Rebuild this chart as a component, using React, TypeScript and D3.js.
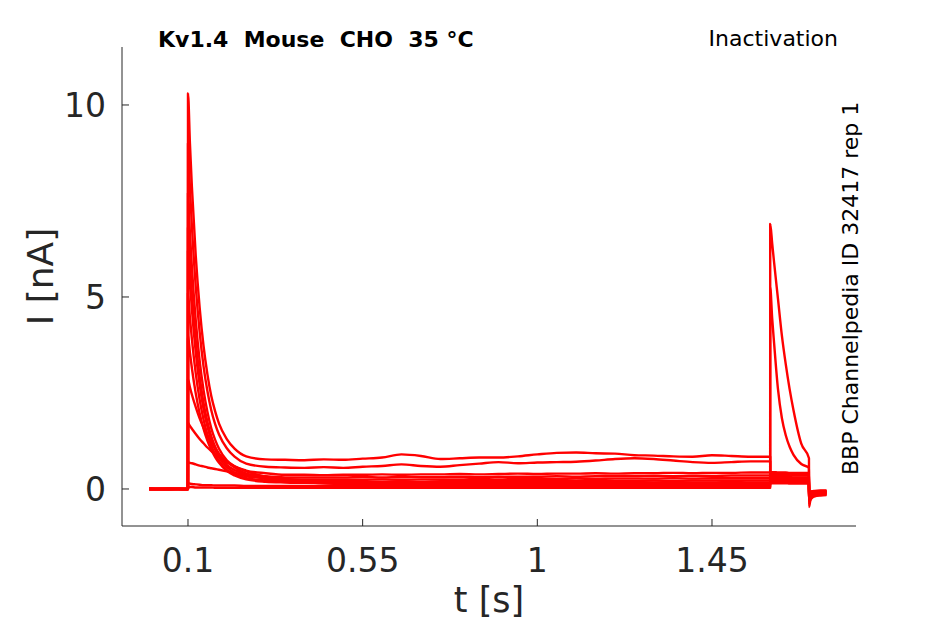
import React from "react";
import * as d3 from "d3";

// ---- time grid (s), split by protocol segment ----
const tBase = [0, 0.05, 0.0999];
const tPre = [0.1, 0.105, 0.11, 0.12, 0.13, 0.14, 0.15, 0.16, 0.17, 0.18, 0.2, 0.22, 0.25, 0.3];
const tHold = [0.35, 0.4, 0.45, 0.5, 0.55, 0.6, 0.65, 0.7, 0.75, 0.8, 0.85, 0.9, 0.95, 1.0, 1.05, 1.1, 1.15, 1.2, 1.25, 1.3, 1.35, 1.4, 1.45, 1.5, 1.55, 1.5999];
const tTest = [1.6, 1.605, 1.61, 1.62, 1.63, 1.64, 1.65, 1.66, 1.68, 1.6999];
const tTail = [1.7, 1.703, 1.707, 1.715, 1.73, 1.745];

// ---- currents (nA), one row per sweep ----
const baseCurrent = [
  [0.01, 0.0, 0.01], [0.0, -0.01, 0.0], [0.01, 0.0, 0.0], [0.0, 0.01, 0.0],
  [-0.01, 0.0, 0.0], [0.0, 0.0, 0.01], [0.01, 0.01, 0.0], [0.0, -0.01, -0.01],
  [0.0, 0.0, 0.0], [-0.01, 0.0, 0.01], [0.0, 0.01, 0.0], [0.01, 0.0, -0.01],
];
const preCurrent = [
  [10.3, 9.0, 7.88, 6.07, 4.73, 3.73, 2.99, 2.42, 2.02, 1.7, 1.3, 1.05, 0.85, 0.77],
  [9.0, 7.85, 6.86, 5.27, 4.09, 3.2, 2.55, 2.05, 1.69, 1.42, 1.06, 0.84, 0.66, 0.58],
  [7.7, 6.67, 5.79, 4.39, 3.34, 2.58, 2.01, 1.58, 1.28, 1.05, 0.75, 0.59, 0.48, 0.41],
  [6.8, 5.89, 5.11, 3.86, 2.93, 2.25, 1.75, 1.37, 1.1, 0.9, 0.63, 0.49, 0.39, 0.33],
  [6.2, 5.39, 4.69, 3.56, 2.72, 2.09, 1.63, 1.28, 1.02, 0.82, 0.57, 0.43, 0.33, 0.28],
  [5.1, 4.46, 3.91, 3.01, 2.33, 1.81, 1.42, 1.13, 0.9, 0.73, 0.5, 0.38, 0.28, 0.22],
  [4.0, 3.55, 3.15, 2.49, 1.97, 1.57, 1.26, 1.02, 0.83, 0.68, 0.47, 0.35, 0.25, 0.19],
  [2.85, 2.65, 2.46, 2.13, 1.84, 1.6, 1.39, 1.21, 1.06, 0.92, 0.71, 0.56, 0.4, 0.26],
  [1.72, 1.64, 1.57, 1.43, 1.3, 1.19, 1.08, 0.99, 0.91, 0.83, 0.7, 0.59, 0.46, 0.32],
  [0.7, 0.68, 0.67, 0.64, 0.61, 0.59, 0.56, 0.54, 0.52, 0.5, 0.46, 0.42, 0.37, 0.31],
  [0.15, 0.14, 0.13, 0.12, 0.11, 0.1, 0.1, 0.1, 0.09, 0.09, 0.09, 0.09, 0.08, 0.08],
  [0.06, 0.05, 0.05, 0.04, 0.04, 0.04, 0.04, 0.04, 0.03, 0.03, 0.03, 0.03, 0.03, 0.03],
];
const holdCurrent = [
  [0.76, 0.75, 0.77, 0.76, 0.79, 0.82, 0.9, 0.86, 0.78, 0.8, 0.82, 0.82, 0.85, 0.9, 0.94, 0.95, 0.93, 0.92, 0.88, 0.87, 0.85, 0.84, 0.88, 0.86, 0.84, 0.84],
  [0.56, 0.55, 0.57, 0.55, 0.58, 0.6, 0.64, 0.6, 0.58, 0.62, 0.66, 0.7, 0.67, 0.69, 0.7, 0.71, 0.74, 0.78, 0.8, 0.78, 0.74, 0.7, 0.68, 0.7, 0.72, 0.72],
  [0.37, 0.37, 0.36, 0.37, 0.37, 0.38, 0.37, 0.38, 0.38, 0.39, 0.38, 0.39, 0.4, 0.39, 0.4, 0.4, 0.41, 0.4, 0.41, 0.41, 0.42, 0.41, 0.42, 0.42, 0.43, 0.43],
  [0.3, 0.3, 0.3, 0.3, 0.31, 0.3, 0.31, 0.31, 0.31, 0.32, 0.31, 0.32, 0.32, 0.32, 0.33, 0.32, 0.33, 0.33, 0.33, 0.34, 0.33, 0.34, 0.34, 0.35, 0.35, 0.35],
  [0.25, 0.24, 0.24, 0.24, 0.24, 0.25, 0.24, 0.25, 0.25, 0.25, 0.26, 0.25, 0.26, 0.26, 0.26, 0.27, 0.26, 0.27, 0.27, 0.27, 0.28, 0.27, 0.28, 0.28, 0.28, 0.28],
  [0.2, 0.19, 0.19, 0.19, 0.19, 0.19, 0.2, 0.19, 0.2, 0.2, 0.2, 0.2, 0.21, 0.2, 0.21, 0.21, 0.21, 0.21, 0.21, 0.22, 0.21, 0.22, 0.22, 0.22, 0.22, 0.22],
  [0.17, 0.16, 0.15, 0.15, 0.15, 0.15, 0.15, 0.15, 0.16, 0.15, 0.16, 0.16, 0.16, 0.16, 0.16, 0.16, 0.17, 0.16, 0.17, 0.17, 0.17, 0.17, 0.17, 0.18, 0.17, 0.17],
  [0.21, 0.18, 0.16, 0.15, 0.14, 0.14, 0.13, 0.13, 0.13, 0.13, 0.13, 0.13, 0.13, 0.13, 0.14, 0.13, 0.14, 0.14, 0.14, 0.14, 0.14, 0.14, 0.14, 0.15, 0.14, 0.14],
  [0.24, 0.18, 0.15, 0.13, 0.12, 0.11, 0.11, 0.1, 0.1, 0.1, 0.1, 0.1, 0.1, 0.1, 0.1, 0.1, 0.1, 0.1, 0.11, 0.1, 0.11, 0.11, 0.11, 0.11, 0.11, 0.11],
  [0.26, 0.22, 0.19, 0.16, 0.14, 0.12, 0.11, 0.1, 0.09, 0.09, 0.09, 0.08, 0.08, 0.08, 0.08, 0.08, 0.08, 0.08, 0.08, 0.08, 0.08, 0.08, 0.08, 0.08, 0.08, 0.08],
  [0.08, 0.08, 0.07, 0.07, 0.07, 0.07, 0.07, 0.07, 0.07, 0.07, 0.07, 0.07, 0.07, 0.07, 0.07, 0.07, 0.07, 0.07, 0.07, 0.07, 0.07, 0.07, 0.07, 0.07, 0.07, 0.07],
  [0.03, 0.03, 0.03, 0.03, 0.03, 0.03, 0.03, 0.03, 0.03, 0.03, 0.03, 0.03, 0.03, 0.03, 0.03, 0.03, 0.03, 0.03, 0.03, 0.03, 0.03, 0.03, 0.03, 0.03, 0.03, 0.03],
];
const testCurrent = [
  [0.45, 0.44, 0.44, 0.43, 0.43, 0.43, 0.42, 0.42, 0.42, 0.42],
  [0.42, 0.41, 0.41, 0.4, 0.4, 0.4, 0.4, 0.39, 0.39, 0.39],
  [0.38, 0.37, 0.37, 0.36, 0.36, 0.36, 0.36, 0.35, 0.35, 0.35],
  [0.33, 0.32, 0.32, 0.31, 0.31, 0.31, 0.31, 0.3, 0.3, 0.3],
  [0.29, 0.28, 0.28, 0.27, 0.27, 0.27, 0.27, 0.27, 0.26, 0.26],
  [0.26, 0.25, 0.25, 0.24, 0.24, 0.24, 0.24, 0.24, 0.23, 0.23],
  [0.22, 0.21, 0.21, 0.21, 0.2, 0.2, 0.2, 0.2, 0.2, 0.2],
  [0.19, 0.18, 0.18, 0.18, 0.18, 0.17, 0.17, 0.17, 0.17, 0.17],
  [0.16, 0.15, 0.15, 0.15, 0.15, 0.15, 0.14, 0.14, 0.14, 0.14],
  [0.35, 0.3, 0.27, 0.24, 0.22, 0.2, 0.19, 0.18, 0.17, 0.16],
  [5.25, 4.45, 3.8, 2.6, 1.85, 1.4, 1.1, 0.89, 0.65, 0.55],
  [6.9, 6.4, 5.9, 4.95, 4.0, 3.25, 2.6, 2.05, 1.18, 0.8],
];
const tailCurrent = [
  [-0.12, -0.08, -0.06, -0.05, -0.04, -0.04],
  [-0.14, -0.1, -0.08, -0.06, -0.05, -0.05],
  [-0.16, -0.12, -0.09, -0.07, -0.06, -0.06],
  [-0.18, -0.13, -0.1, -0.08, -0.07, -0.07],
  [-0.2, -0.14, -0.11, -0.09, -0.08, -0.08],
  [-0.22, -0.16, -0.12, -0.1, -0.09, -0.09],
  [-0.24, -0.17, -0.13, -0.11, -0.1, -0.1],
  [-0.26, -0.18, -0.14, -0.12, -0.11, -0.11],
  [-0.28, -0.2, -0.15, -0.13, -0.12, -0.12],
  [-0.3, -0.22, -0.17, -0.14, -0.13, -0.13],
  [-0.4, -0.28, -0.21, -0.17, -0.15, -0.15],
  [-0.47, -0.32, -0.24, -0.19, -0.17, -0.16],
];

const xTicks = [0.1, 0.55, 1, 1.45];
const yTicks = [0, 5, 10];
const titleText = "Kv1.4  Mouse  CHO  35 °C";
const protocolText = "Inactivation";
const sideText = "BBP Channelpedia ID 32417 rep 1";

const W = 945;
const H = 624;
const axisColor = "#262626";
const font = "'DejaVu Sans', sans-serif";

export default function App() {
  const x = d3.scaleLinear().domain([-0.07, 1.821]).range([122, 856]);
  const y = d3.scaleLinear().domain([-0.964, 11.51]).range([526, 47]);
  const times = [...tBase, ...tPre, ...tHold, ...tTest, ...tTail];
  const sweeps = preCurrent.map((_, i) => [
    ...baseCurrent[i],
    ...preCurrent[i],
    ...holdCurrent[i],
    ...testCurrent[i],
    ...tailCurrent[i],
  ]);
  const line = d3
    .line<number>()
    .x((_, j) => x(times[j]))
    .y((v) => y(v))
    .curve(d3.curveMonotoneX);

  const [x0, x1] = x.range();
  const [yb, yt] = y.range();

  return (
    <svg
      width={W}
      height={H}
      style={{ position: "absolute", left: 0, top: 0, background: "#fff" }}
      fontFamily={font}
    >
      <rect x={0} y={0} width={W} height={H} fill="#fff" />
      {sweeps.map((s, i) => (
        <path
          key={i}
          d={line(s) || ""}
          fill="none"
          stroke="#ff0000"
          strokeWidth={2.4}
          strokeLinejoin="round"
        />
      ))}
      {/* axes */}
      <line x1={x0} x2={x0} y1={yt} y2={yb} stroke={axisColor} strokeWidth={1} />
      <line x1={x0} x2={x1} y1={yb} y2={yb} stroke={axisColor} strokeWidth={1} />
      {yTicks.map((t) => (
        <g key={"y" + t}>
          <line x1={x0} x2={x0 + 7} y1={y(t)} y2={y(t)} stroke={axisColor} strokeWidth={1} />
          <text x={x0 - 16} y={y(t)} dy="0.36em" textAnchor="end" fontSize={33} fill={axisColor}>
            {t}
          </text>
        </g>
      ))}
      {xTicks.map((t) => (
        <g key={"x" + t}>
          <line x1={x(t)} x2={x(t)} y1={yb} y2={yb - 7} stroke={axisColor} strokeWidth={1} />
          <text x={x(t)} y={yb + 46} textAnchor="middle" fontSize={33} fill={axisColor}>
            {t}
          </text>
        </g>
      ))}
      <text x={(x0 + x1) / 2} y={612} textAnchor="middle" fontSize={35} fill={axisColor}>
        t [s]
      </text>
      <text
        transform={`translate(53,${(yt + yb) / 2 - 10}) rotate(-90)`}
        textAnchor="middle"
        fontSize={36}
        fill={axisColor}
      >
        I [nA]
      </text>
      <text x={158} y={47} fontSize={22} fontWeight="bold" fill="#000" style={{ whiteSpace: "pre" }}>
        {titleText}
      </text>
      <text x={838} y={46} fontSize={22} textAnchor="end" fill="#000">
        {protocolText}
      </text>
      <text transform="translate(858,475) rotate(-90)" fontSize={22} fill="#000">
        {sideText}
      </text>
    </svg>
  );
}
